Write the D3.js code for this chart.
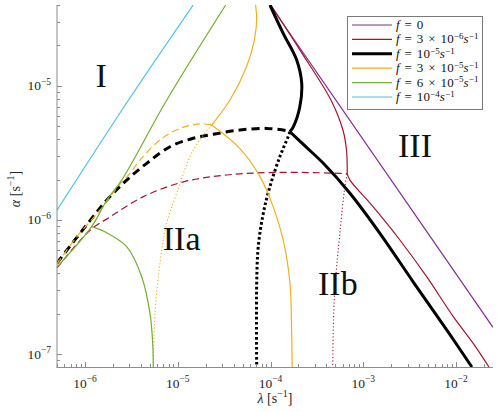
<!DOCTYPE html>
<html><head><meta charset="utf-8">
<script src="https://cdn.jsdelivr.net/npm/d3@7"></script>
<style>body{margin:0;background:#fff}</style>
</head><body><svg id="c" width="500" height="412"></svg>
<script>
// ---------- data ----------
const lamDomain = [5e-7, 2.5e-2];
const alphaDomain = [8e-8, 4e-5];
const xMajorTicks = [1e-6, 1e-5, 1e-4, 1e-3, 1e-2];
const xTickExps = ["−6", "−5", "−4", "−3", "−2"];
const yMajorTicks = [1e-7, 1e-6, 1e-5];
const yTickExps = ["−7", "−6", "−5"];

// f = 0
const purpleSolid = [[9.9e-5, 4e-5], [2.5e-2, 1.58e-7]];
// f = 3e-6
const redSolidUpper = [[1.01e-4, 4e-5], [2.07e-4, 1.85e-5], [4.48e-4, 7.83e-6], [6.03e-4, 4.68e-6], [6.59e-4, 3.32e-6], [6.71e-4, 2.2e-6]];
const redSolidLower = [[6.71e-4, 2.2e-6], [7.18e-4, 1.98e-6], [1.28e-3, 1.25e-6], [2.48e-3, 7.08e-7], [4.82e-3, 3.77e-7], [9.33e-3, 1.9e-7], [1.53e-2, 1.2e-7], [2.26e-2, 8e-8]];
const redDashed = [[5e-7, 4.38e-7], [1.14e-6, 8.4e-7], [1.86e-6, 1.05e-6], [4.26e-6, 1.49e-6], [1.15e-5, 1.92e-6], [3.37e-5, 2.16e-6], [1.16e-4, 2.26e-6], [5.6e-4, 2.22e-6], [6.71e-4, 2.2e-6]];
const redDotted = [[6.71e-4, 2.2e-6], [6.5e-4, 1.98e-6], [6.08e-4, 1.41e-6], [5.6e-4, 7.98e-7], [5.16e-4, 4.48e-7], [4.86e-4, 2.52e-7], [4.74e-4, 1.43e-7], [4.68e-4, 8e-8]];
// f = 1e-5
const blackSolidUpper = [[9.86e-5, 4e-5], [1.37e-4, 2.46e-5], [1.91e-4, 1.56e-5], [2.17e-4, 1.04e-5], [2.07e-4, 6.98e-6], [1.76e-4, 4.94e-6], [1.62e-4, 4.54e-6]];
const blackSolidLower = [[1.62e-4, 4.54e-6], [2.35e-4, 3.56e-6], [3.71e-4, 2.64e-6], [7.18e-4, 1.58e-6], [1.51e-3, 7.94e-7], [3.52e-3, 3.38e-7], [8.38e-3, 1.43e-7], [1.48e-2, 8e-8]];
const blackDashed = [[5e-7, 4.77e-7], [1.08e-6, 9.46e-7], [1.79e-6, 1.45e-6], [2.82e-6, 1.98e-6], [4.63e-6, 2.64e-6], [8.26e-6, 3.51e-6], [1.47e-5, 4.06e-6], [2.42e-5, 4.35e-6], [4.69e-5, 4.68e-6], [9.1e-5, 4.81e-6], [1.49e-4, 4.62e-6], [1.62e-4, 4.54e-6]];
const blackDotted = [[1.62e-4, 4.54e-6], [1.55e-4, 4.17e-6], [1.26e-4, 2.96e-6], [9.86e-5, 1.77e-6], [8.36e-5, 1.12e-6], [7.38e-5, 6.31e-7], [7.1e-5, 3.37e-7], [7.1e-5, 8e-8]];
// f = 3e-5
const orangeSolidUpper = [[6.9e-5, 4e-5], [7.1e-5, 3.1e-5], [6.7e-5, 2.2e-5], [5.53e-5, 1.39e-5], [3.66e-5, 7.83e-6], [2.32e-5, 5.09e-6]];
const orangeSolidLower = [[2.32e-5, 5.09e-6], [4.69e-5, 3.4e-6], [7.71e-5, 2.1e-6], [1.07e-4, 1.25e-6], [1.37e-4, 7.08e-7], [1.62e-4, 3.38e-7], [1.69e-4, 1.43e-7], [1.71e-4, 8e-8]];
const orangeDashed = [[5e-7, 4.69e-7], [8.15e-7, 7.45e-7], [1.45e-6, 1.18e-6], [2.39e-6, 1.85e-6], [3.06e-6, 2.22e-6], [3.92e-6, 2.79e-6], [6.44e-6, 3.94e-6], [1.06e-5, 4.81e-6], [1.74e-5, 5.19e-6], [2.32e-5, 5.09e-6]];
const orangeDotted = [[2.32e-5, 5.09e-6], [1.47e-5, 3.32e-6], [9.75e-6, 1.58e-6], [7.6e-6, 9.42e-7], [6.44e-6, 4.77e-7], [5.69e-6, 2.02e-7], [5.46e-6, 8e-8]];
// f = 6e-5
const greenSolidUpper = [[5e-7, 4.45e-7], [1.18e-6, 8.9e-7], [1.73e-6, 1.41e-6], [2.49e-6, 1.98e-6], [7.6e-6, 7.8e-6], [3.29e-5, 4e-5]];
const greenSolidLower = [[1.18e-6, 8.9e-7], [1.64e-6, 8.15e-7], [2.82e-6, 6.31e-7], [4.09e-6, 3.77e-7], [5.02e-6, 2.02e-7], [5.35e-6, 1.27e-7], [5.46e-6, 8e-8]];
// f = 1e-4
const blueSolid = [[5e-7, 1.18e-6], [2.8e-6, 7.4e-6], [1.47e-5, 4e-5]];

const legendLabels = [
  [{t: "f", it: 1}, {t: " = 0"}],
  [{t: "f", it: 1}, {t: " = 3 × 10"}, {t: "−6", sup: 1}, {t: "s", it: 1}, {t: "−1", sup: 1}],
  [{t: "f", it: 1}, {t: " = 10"}, {t: "−5", sup: 1}, {t: "s", it: 1}, {t: "−1", sup: 1}],
  [{t: "f", it: 1}, {t: " = 3 × 10"}, {t: "−5", sup: 1}, {t: "s", it: 1}, {t: "−1", sup: 1}],
  [{t: "f", it: 1}, {t: " = 6 × 10"}, {t: "−5", sup: 1}, {t: "s", it: 1}, {t: "−1", sup: 1}],
  [{t: "f", it: 1}, {t: " = 10"}, {t: "−4", sup: 1}, {t: "s", it: 1}, {t: "−1", sup: 1}]
];
const legendColors = ["#7E2F8E", "#A2142F", "#000000", "#EDB120", "#77AC30", "#4DBEEE"];
const legendWidths = [1.2, 1.2, 3, 1.2, 1.2, 1.2];
const regionLabels = [["I", 1.3e-6, 9.8e-6], ["IIa", 6.9e-6, 6.0e-7], ["IIb", 3.25e-4, 2.75e-7], ["III", 2.37e-3, 2.94e-6]];

// ---------- drawing ----------
const FONT = "'Liberation Serif', 'Times New Roman', serif";
const svg = d3.select("#c");
const L = 57, R = 493, T = 5, B = 367;
const x = d3.scaleLog().domain(lamDomain).range([L, R]);
const y = d3.scaleLog().domain(alphaDomain).range([B, T]);

svg.append("defs").append("clipPath").attr("id", "clip")
  .append("rect").attr("x", L).attr("y", T).attr("width", R - L).attr("height", B - T);

const plot = svg.append("g").attr("clip-path", "url(#clip)");
const line = d3.line().x(d => x(d[0])).y(d => y(d[1])).curve(d3.curveCatmullRom.alpha(0.5));

function draw(data, color, width, dash) {
  plot.append("path").datum(data).attr("d", line)
    .attr("fill", "none").attr("stroke", color).attr("stroke-width", width)
    .attr("stroke-dasharray", dash || null).attr("stroke-linejoin", "round");
}
const C = legendColors;
draw(purpleSolid, C[0], 1.2);
draw(redDashed, C[1], 1.2, "7,4");
draw(redDotted, C[1], 1.1, "1.2,2.2");
draw(redSolidUpper, C[1], 1.2);
draw(redSolidLower, C[1], 1.2);
draw(blackDashed, C[2], 3, "8,5");
draw(blackDotted, C[2], 3, "2.6,2.4");
draw(blackSolidUpper, C[2], 3);
draw(blackSolidLower, C[2], 3);
draw(orangeDashed, C[3], 1.2, "7,4");
draw(orangeDotted, C[3], 1.1, "1.2,2.2");
draw(orangeSolidUpper, C[3], 1.2);
draw(orangeSolidLower, C[3], 1.2);
draw(greenSolidUpper, C[4], 1.2);
draw(greenSolidLower, C[4], 1.2);
draw(blueSolid, C[5], 1.2);

// axes
const axisColor = "#8c8c8c";
const ax = svg.append("g").attr("stroke", axisColor).attr("stroke-width", 1).attr("fill", "none");
ax.append("line").attr("x1", L).attr("x2", L).attr("y1", T).attr("y2", B + 0.5);
ax.append("line").attr("x1", L - 0.5).attr("x2", R).attr("y1", B + 0.5).attr("y2", B + 0.5);
x.ticks().forEach(v => {
  const major = xMajorTicks.some(m => Math.abs(m - v) / m < 1e-6);
  ax.append("line").attr("x1", Math.round(x(v)) + 0.5).attr("x2", Math.round(x(v)) + 0.5)
    .attr("y1", B).attr("y2", B - (major ? 5 : 3));
});
y.ticks().forEach(v => {
  const major = yMajorTicks.some(m => Math.abs(m - v) / m < 1e-6);
  ax.append("line").attr("y1", Math.round(y(v)) + 0.5).attr("y2", Math.round(y(v)) + 0.5)
    .attr("x1", L).attr("x2", L + (major ? 5 : 3));
});

function rich(sel, parts, size, supSize, raise) {
  let raised = false;
  const r = raise == null ? size * 0.42 : raise;
  parts.forEach(p => {
    const ts = sel.append("tspan").text(p.t);
    if (p.it) ts.attr("font-style", "italic");
    if (p.sup) {
      ts.attr("font-size", supSize);
      if (!raised) { ts.attr("dy", -r); raised = true; }
    } else {
      ts.attr("font-size", size);
      if (raised) { ts.attr("dy", r); raised = false; }
    }
  });
}

xMajorTicks.forEach((v, i) => {
  const t = svg.append("text").attr("x", x(v)).attr("y", 388).attr("text-anchor", "middle")
    .attr("font-family", FONT).attr("fill", "#262626");
  rich(t, [{t: "10"}, {t: xTickExps[i], sup: 1}], 13.5, 9.5);
});
yMajorTicks.forEach((v, i) => {
  const t = svg.append("text").attr("x", 51).attr("y", y(v) + 4.5).attr("text-anchor", "end")
    .attr("font-family", FONT).attr("fill", "#262626");
  rich(t, [{t: "10"}, {t: yTickExps[i], sup: 1}], 13.5, 9.5);
});

// axis labels
const xl = svg.append("text").attr("x", (L + R) / 2).attr("y", 403).attr("text-anchor", "middle")
  .attr("font-family", FONT).attr("fill", "#262626");
rich(xl, [{t: "λ", it: 1}, {t: " [s"}, {t: "−1", sup: 1}, {t: "]"}], 14, 10);
const yl = svg.append("text").attr("transform", `translate(20,189) rotate(-90)`)
  .attr("text-anchor", "middle").attr("font-family", FONT).attr("fill", "#262626");
rich(yl, [{t: "α", it: 1}, {t: " [s"}, {t: "−1", sup: 1}, {t: "]"}], 14, 10);

// region labels
regionLabels.forEach(r => {
  svg.append("text").attr("x", x(r[1])).attr("y", y(r[2])).text(r[0])
    .attr("font-family", FONT).attr("font-size", 34).attr("fill", "#111");
});

// legend
const lg = svg.append("g");
lg.append("rect").attr("x", 347.5).attr("y", 16.5).attr("width", 135).attr("height", 93)
  .attr("fill", "#fff").attr("stroke", "#7a7a7a").attr("stroke-width", 1);
legendLabels.forEach((lab, i) => {
  const yy = 25 + i * 14.4;
  lg.append("line").attr("x1", 352).attr("x2", 392).attr("y1", yy).attr("y2", yy)
    .attr("stroke", legendColors[i]).attr("stroke-width", legendWidths[i]);
  const t = lg.append("text").attr("x", 396).attr("y", yy + 4).attr("font-family", FONT)
    .attr("fill", "#111").attr("word-spacing", 1.5).attr("letter-spacing", 0.1);
  rich(t, lab, 13, 9, 4.2);
});
</script></body></html>
